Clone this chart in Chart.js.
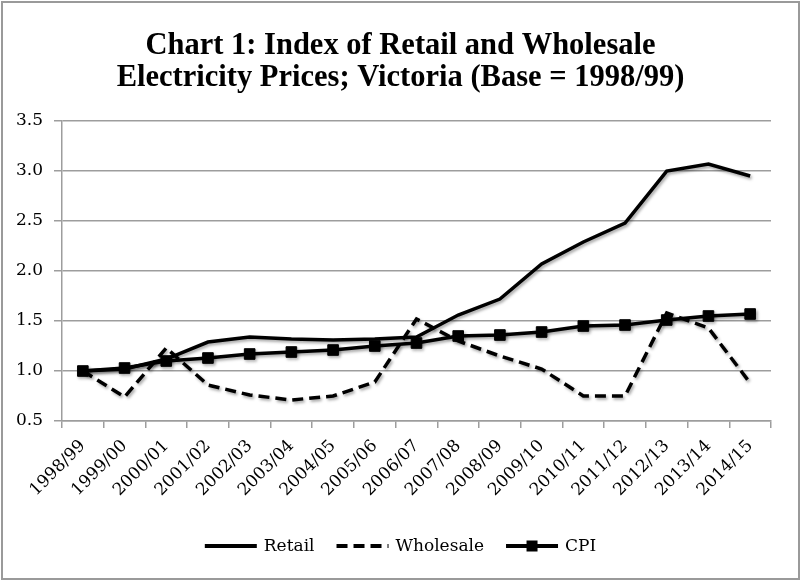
<!DOCTYPE html>
<html>
<head>
<meta charset="utf-8">
<script src="https://cdn.jsdelivr.net/npm/chart.js@4.4.1/dist/chart.umd.min.js"></script>
<style>
  html, body { margin: 0; padding: 0; background: #ffffff; }
  #wrap { width: 801px; height: 581px; position: relative; }
</style>
</head>
<body>
<div id="wrap"><canvas id="c" width="801" height="581"></canvas></div>
<script>
const categories = ['1998/99','1999/00','2000/01','2001/02','2002/03','2003/04','2004/05','2005/06','2006/07','2007/08','2008/09','2009/10','2010/11','2011/12','2012/13','2013/14','2014/15'];
const retail    = [1.00,1.02,1.12,1.29,1.34,1.32,1.31,1.32,1.34,1.56,1.72,2.07,2.29,2.48,3.00,3.07,2.95];
const wholesale = [1.00,0.74,1.23,0.86,0.76,0.71,0.75,0.89,1.52,1.30,1.15,1.02,0.75,0.75,1.58,1.43,0.88];
const cpi       = [1.00,1.03,1.10,1.13,1.17,1.19,1.21,1.25,1.28,1.35,1.36,1.39,1.45,1.46,1.51,1.55,1.57];
const yTicks    = [0.5,1.0,1.5,2.0,2.5,3.0,3.5];
const titleLines = ['Chart 1: Index of Retail and Wholesale','Electricity Prices; Victoria (Base = 1998/99)'];
const seriesNames = ['Retail','Wholesale','CPI'];

const GRID = '#9d9d9d';
const SERIF = '"DejaVu Serif", serif';

const shadowPlugin = {
  id: 'shadow',
  beforeDatasetsDraw(chart) {
    const ctx = chart.ctx;
    ctx.save();
    ctx.shadowColor = 'rgba(0,0,0,0.35)';
    ctx.shadowBlur = 3;
    ctx.shadowOffsetX = 1.5;
    ctx.shadowOffsetY = 2;
  },
  afterDatasetsDraw(chart) { chart.ctx.restore(); }
};

const frameLegendPlugin = {
  id: 'frameLegend',
  beforeDraw(chart) {
    const ctx = chart.ctx;
    ctx.save();
    ctx.fillStyle = '#ffffff';
    ctx.fillRect(0, 0, chart.width, chart.height);
    ctx.restore();
  },
  afterDraw(chart) {
    const ctx = chart.ctx;
    ctx.save();
    // outer frame
    ctx.strokeStyle = '#9a9a9a';
    ctx.lineWidth = 2;
    ctx.strokeRect(2, 2, chart.width - 4, chart.height - 4);
    // legend
    ctx.font = '17px ' + SERIF;
    ctx.textBaseline = 'middle';
    ctx.fillStyle = '#000';
    const lineLen = 52, gapText = 7, gapItem = 22;
    const widths = seriesNames.map(n => lineLen + gapText + ctx.measureText(n).width);
    const total = widths.reduce((a, b) => a + b, 0) + gapItem * (widths.length - 1);
    let x = chart.width / 2 - total / 2;
    const y = 546;
    chart.data.datasets.forEach((ds, i) => {
      ctx.save();
      ctx.strokeStyle = '#000';
      ctx.lineWidth = 4;
      ctx.lineCap = 'butt';
      ctx.setLineDash(ds.borderDash || []);
      ctx.beginPath();
      ctx.moveTo(x, y);
      ctx.lineTo(x + lineLen, y);
      ctx.stroke();
      ctx.setLineDash([]);
      if (ds.pointRadius > 0) {
        ctx.fillStyle = '#000';
        ctx.fillRect(x + lineLen / 2 - 5.5, y - 5.5, 11, 11);
      }
      ctx.restore();
      ctx.fillText(ds.label, x + lineLen + gapText, y + 1);
      x += widths[i] + gapItem;
    });
    ctx.restore();
  }
};

new Chart(document.getElementById('c'), {
  type: 'line',
  data: {
    labels: categories,
    datasets: [
      { label: seriesNames[0], data: retail, borderColor: '#000', backgroundColor: '#000',
        borderWidth: 3.5, pointRadius: 0, tension: 0 },
      { label: seriesNames[1], data: wholesale, borderColor: '#000', backgroundColor: '#000',
        borderWidth: 3.5, borderDash: [11, 6], pointRadius: 0, tension: 0 },
      { label: seriesNames[2], data: cpi, borderColor: '#000', backgroundColor: '#000',
        borderWidth: 3.5, pointStyle: 'rect', pointRadius: 7.5, pointBorderWidth: 1, tension: 0 }
    ]
  },
  options: {
    responsive: false,
    animation: false,
    devicePixelRatio: 1,
    layout: { padding: { left: 0, right: 0, top: 0, bottom: 0 } },
    plugins: {
      legend: { display: false },
      tooltip: { enabled: false },
      title: {
        display: true,
        text: titleLines,
        color: '#000',
        font: { family: '"Liberation Serif", serif', size: 30.5, weight: 'bold', lineHeight: 1.05 },
        padding: { top: 30, bottom: 27 }
      }
    },
    scales: {
      x: {
        type: 'category',
        offset: true,
        grid: { offset: true, drawOnChartArea: false, drawTicks: true, tickLength: 7, color: GRID, lineWidth: 1.5 },
        border: { color: GRID, width: 1.5 },
        ticks: { color: '#000', font: { family: SERIF, size: 17 }, minRotation: 45, maxRotation: 45, autoSkip: false, padding: 8 },
        afterFit(scale) { scale.height = 160; }
      },
      y: {
        min: 0.5, max: 3.5,
        afterBuildTicks(scale) { scale.ticks = yTicks.map(v => ({ value: v })); },
        grid: { color: GRID, lineWidth: 1.5, drawTicks: true, tickLength: 8 },
        border: { color: GRID, width: 1.5 },
        ticks: { color: '#000', font: { family: SERIF, size: 17 }, padding: 11,
                 callback: v => Number(v).toFixed(1) },
        afterFit(scale) { scale.width = 62; }
      },
      yRight: {
        position: 'right',
        min: 0.5, max: 3.5,
        grid: { display: false, drawOnChartArea: false },
        border: { display: false },
        ticks: { display: false },
        afterFit(scale) { scale.width = 30; }
      }
    }
  },
  plugins: [shadowPlugin, frameLegendPlugin]
});
</script>
</body>
</html>
